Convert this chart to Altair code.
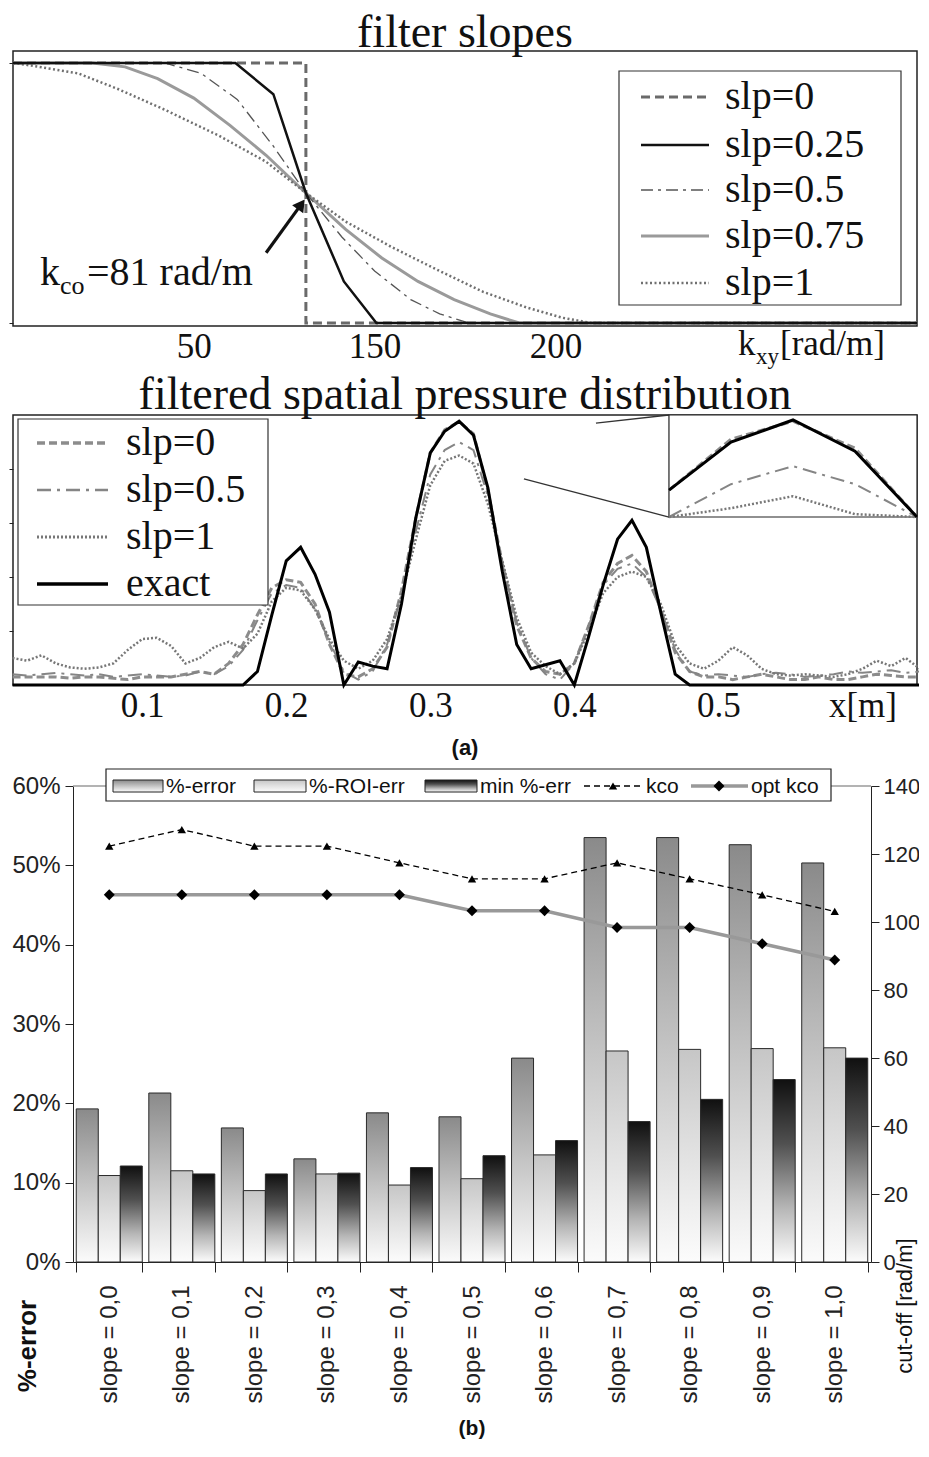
import altair as alt
import pandas as pd

SERIF = "Liberation Serif, Times New Roman, serif"
SANS = "Liberation Sans, Arial, Helvetica, sans-serif"
NARROW = "Liberation Sans Narrow, Arial Narrow, Liberation Sans, sans-serif"
INK = "#111111"

# ---------------- panel 1 data: filter slopes ----------------
top_series = ["slp=0", "slp=0.25", "slp=0.5", "slp=0.75", "slp=1"]
k_slp0 = [0, 81, 81, 250]
v_slp0 = [1.0, 1.0, 0.0, 0.0]
k_slp025 = [0, 61.5, 72, 81, 91.5, 100.5, 250]
v_slp025 = [1.0, 1.0, 0.88, 0.5, 0.16, 0.0, 0.0]
k_slp05 = [0, 42, 52, 62, 72, 81, 91, 100, 110, 118, 126, 250]
v_slp05 = [1.0, 1.0, 0.96, 0.86, 0.68, 0.5, 0.33, 0.2, 0.09, 0.035, 0.0, 0.0]
k_slp075 = [0, 22, 31, 40, 50, 60, 70, 81, 92, 102, 112, 122, 132, 140, 250]
v_slp075 = [1.0, 1.0, 0.985, 0.94, 0.865, 0.76, 0.645, 0.5, 0.36, 0.25, 0.16, 0.09, 0.035, 0.0, 0.0]
k_slp1 = [0, 5, 18, 29, 42, 57, 70, 81, 92, 105, 118, 130, 142, 152, 160, 250]
v_slp1 = [1.0, 0.99, 0.96, 0.9, 0.82, 0.72, 0.62, 0.5, 0.39, 0.29, 0.2, 0.12, 0.06, 0.02, 0.0, 0.0]
arrow_k = [70, 79.7]
arrow_v = [0.27, 0.456]
top_tick_values = [50, 100, 150, 200]
top_tick_text = ["50", "150", "200", ""]

# ---------------- panel 2 data: filtered spatial pressure distribution ----------------
mid_series = ["slp=0", "slp=0.5", "slp=1", "exact"]
x_m = [0.01, 0.02, 0.03, 0.04, 0.05, 0.06, 0.07, 0.08, 0.09, 0.10,
       0.11, 0.12, 0.13, 0.14, 0.15, 0.16, 0.17, 0.18, 0.19, 0.20,
       0.21, 0.22, 0.23, 0.24, 0.25, 0.26, 0.27, 0.28, 0.29, 0.30,
       0.31, 0.32, 0.33, 0.34, 0.35, 0.36, 0.37, 0.38, 0.39, 0.40,
       0.41, 0.42, 0.43, 0.44, 0.45, 0.46, 0.47, 0.48, 0.49, 0.50,
       0.51, 0.52, 0.53, 0.54, 0.55, 0.56, 0.57, 0.58, 0.59, 0.60,
       0.61, 0.62, 0.63, 0.64]
p_slp0 = [0.03, 0.03, 0.03, 0.03, 0.025, 0.03, 0.03, 0.025, 0.02, 0.03,
          0.03, 0.03, 0.04, 0.05, 0.04, 0.08, 0.15, 0.26, 0.36, 0.39,
          0.38, 0.30, 0.15, 0.04, 0.03, 0.06, 0.14, 0.35, 0.62, 0.86,
          0.945, 0.975, 0.93, 0.72, 0.45, 0.22, 0.10, 0.05, 0.04, 0.08,
          0.22, 0.38, 0.45, 0.48, 0.42, 0.28, 0.12, 0.05, 0.03, 0.03,
          0.02, 0.03, 0.04, 0.03, 0.02, 0.02, 0.03, 0.02, 0.02, 0.03,
          0.04, 0.035, 0.03, 0.03]
p_slp05 = [0.04, 0.035, 0.04, 0.045, 0.04, 0.035, 0.04, 0.03, 0.035, 0.04,
           0.035, 0.03, 0.035, 0.05, 0.04, 0.07, 0.13, 0.24, 0.34, 0.37,
           0.36, 0.28, 0.16, 0.05, 0.02, 0.05, 0.15, 0.33, 0.57, 0.78,
           0.87, 0.90, 0.87, 0.70, 0.45, 0.23, 0.10, 0.04, 0.02, 0.08,
           0.22, 0.37, 0.43, 0.45, 0.40, 0.28, 0.13, 0.05, 0.035, 0.04,
           0.035, 0.03, 0.04, 0.045, 0.04, 0.03, 0.035, 0.04, 0.05, 0.045,
           0.05, 0.055, 0.045, 0.05]
p_slp1 = [0.10, 0.09, 0.11, 0.08, 0.065, 0.06, 0.065, 0.08, 0.13, 0.17,
          0.175, 0.145, 0.08, 0.10, 0.14, 0.16, 0.135, 0.19, 0.31, 0.36,
          0.35, 0.28, 0.17, 0.09, 0.06, 0.09, 0.17, 0.33, 0.54, 0.74,
          0.83, 0.85, 0.82, 0.67, 0.46, 0.25, 0.12, 0.07, 0.04, 0.08,
          0.20, 0.34, 0.40, 0.42, 0.40, 0.30, 0.15, 0.08, 0.06, 0.09,
          0.14, 0.11, 0.06, 0.04, 0.035, 0.04, 0.035, 0.03, 0.04, 0.06,
          0.09, 0.07, 0.10, 0.06]
p_exact = [0, 0, 0, 0, 0, 0, 0, 0, 0, 0,
           0, 0, 0, 0, 0, 0, 0, 0.05, 0.26, 0.46,
           0.51, 0.41, 0.27, 0.0, 0.085, 0.07, 0.06, 0.30, 0.62, 0.86,
           0.94, 0.977, 0.925, 0.73, 0.42, 0.15, 0.06, 0.075, 0.09, 0.0,
           0.18, 0.37, 0.54, 0.61, 0.51, 0.27, 0.04, 0, 0, 0,
           0, 0, 0, 0, 0, 0, 0, 0, 0, 0,
           0, 0, 0, 0]
mid_tick_values = [0.1, 0.2, 0.3, 0.4, 0.5, 0.6]
inset_box_x = [0.4657, 0.6379]
inset_box_v = [0.6222, 1.0]
conn_x = [[0.415, 0.4657], [0.365, 0.4657]]
conn_v = [[0.970, 1.0], [0.763, 0.6222]]

# ---------------- panel 3 data: error bars and cut-off ----------------
slope_labels = ["slope = 0,0", "slope = 0,1", "slope = 0,2", "slope = 0,3", "slope = 0,4",
                "slope = 0,5", "slope = 0,6", "slope = 0,7", "slope = 0,8", "slope = 0,9",
                "slope = 1,0"]
bar_series = ["%-error", "%-ROI-err", "min %-err"]
pct_error = [19.3, 21.3, 16.9, 13.0, 18.8, 18.3, 25.7, 53.5, 53.5, 52.6, 50.3]
pct_roi_err = [10.9, 11.5, 9.0, 11.1, 9.7, 10.5, 13.5, 26.6, 26.8, 26.9, 27.0]
min_pct_err = [12.1, 11.1, 11.1, 11.2, 11.9, 13.4, 15.3, 17.7, 20.5, 23.0, 25.7]
kco = [122.3, 127.2, 122.3, 122.3, 117.4, 112.7, 112.7, 117.4, 112.7, 108.0, 103.1]
opt_kco = [108.0, 108.0, 108.0, 108.0, 108.0, 103.3, 103.3, 98.4, 98.4, 93.6, 88.8]

# ---------------- helpers ----------------
ONE = alt.Data(values=[{"z": 0}])


def seg(x1, x2, y, color, width, dash=None):
    kw = dict(color=color, strokeWidth=width)
    if dash:
        kw["strokeDash"] = dash
    return alt.Chart(ONE).mark_rule(**kw).encode(x=alt.value(x1), x2=alt.value(x2), y=alt.value(y))


def box(x1, x2, y1, y2, stroke="#333333", width=1.2, fill="white"):
    return alt.Chart(ONE).mark_rect(fill=fill, stroke=stroke, strokeWidth=width).encode(
        x=alt.value(x1), x2=alt.value(x2), y=alt.value(y1), y2=alt.value(y2))


def txt(x, y, s, font=SERIF, size=40, align="left", baseline="alphabetic", weight="normal", angle=0):
    kw = dict(text=s, font=font, fontSize=size, align=align, baseline=baseline,
              fontWeight=weight, color=INK)
    if angle:
        kw["angle"] = angle
    return alt.Chart(ONE).mark_text(**kw).encode(x=alt.value(x), y=alt.value(y))


def style_kw(color, dash, width):
    kw = dict(color=color, strokeWidth=width)
    if dash:
        kw["strokeDash"] = dash
    return kw


def ternary(values, texts, default="''"):
    expr = default
    for v, t in reversed(list(zip(values, texts))):
        expr = f"datum.value == {v} ? '{t}' : ({expr})"
    return expr


W = 904
TITLE_SIZE = 46

# ================= panel 1 =================
top_styles = [("#6a6a6a", [9, 5], 3), ("#111111", None, 2.5), ("#555555", [12, 5, 3, 5], 1.3),
              ("#9a9a9a", None, 3), ("#707070", [2, 2.5], 2.5)]
rows1 = []
for s, kk, vv in zip(top_series, [k_slp0, k_slp025, k_slp05, k_slp075, k_slp1],
                     [v_slp0, v_slp025, v_slp05, v_slp075, v_slp1]):
    for i, (k, v) in enumerate(zip(kk, vv)):
        rows1.append({"series": s, "k": k, "v": v, "i": i})
df1 = pd.DataFrame(rows1)

X1 = alt.X("k:Q", scale=alt.Scale(domain=[0, 250], nice=False, zero=False),
           axis=alt.Axis(values=top_tick_values, labelExpr=ternary(top_tick_values, top_tick_text),
                         labelFont=SERIF, labelFontSize=35, labelColor=INK, labelPadding=3,
                         ticks=False, domain=False, grid=False, title=None, labelFlush=False))
Y1 = alt.Y("v:Q", scale=alt.Scale(domain=[-0.0115, 1.046], nice=False, zero=False),
           axis=alt.Axis(values=[0, 1], labels=False, tickSize=4, tickColor="#222222",
                         domain=False, grid=False, title=None))

p1_layers = []
for idx in [0, 3, 4, 2, 1]:
    c, d, w = top_styles[idx]
    p1_layers.append(
        alt.Chart(df1).transform_filter(alt.datum.series == top_series[idx])
        .mark_line(**style_kw(c, d, w)).encode(x=X1, y=Y1, order=alt.Order("i:Q")))
df_arrow = pd.DataFrame({"k": arrow_k, "v": arrow_v})
p1_layers.append(alt.Chart(df_arrow).mark_line(color=INK, strokeWidth=3.2).encode(x=X1, y=Y1))
p1_layers.append(alt.Chart(df_arrow.tail(1)).mark_point(shape="triangle-up", filled=True, size=190,
                                                          angle=36, color=INK, opacity=1).encode(x=X1, y=Y1))
# title (baseline 4px above the frame)
p1_layers.append(txt(W / 2, -(0.79 * TITLE_SIZE + 4), "filter slopes", size=TITLE_SIZE,
                     align="center", baseline="top"))
# annotation k_co
p1_layers += [txt(27, 234, "k"), txt(47, 243, "co", size=26), txt(74, 234, "=81 rad/m")]
# custom axis label k_xy[rad/m]
p1_layers += [txt(725, 304, "k", size=35), txt(743, 313, "xy", size=23), txt(767, 304, "[rad/m]", size=35)]
# legend
p1_layers.append(box(606, 888, 20, 254))
for (c, d, w), s, ry in zip(top_styles, top_series, [46, 94, 139, 185, 232]):
    p1_layers.append(seg(628, 696, ry, c, w, d))
    p1_layers.append(txt(712, ry + 12, s, size=40))

p1 = alt.layer(*p1_layers).properties(width=W, height=275)

# ================= panel 2 =================
mid_styles = [("#8c8c8c", [8, 4], 3), ("#858585", [14, 6, 3, 6], 2), ("#777777", [2, 2], 2.5),
              ("#000000", None, 3)]
rows2 = []
for s, vals in zip(mid_series, [p_slp0, p_slp05, p_slp1, p_exact]):
    for x, v in zip(x_m, vals):
        rows2.append({"series": s, "x": x, "v": v})
df2 = pd.DataFrame(rows2)

X2 = alt.X("x:Q", scale=alt.Scale(domain=[0.0103, 0.6379], nice=False, zero=False),
           axis=alt.Axis(values=mid_tick_values,
                         labelExpr="datum.value > 0.55 ? 'x[m]' : format(datum.value, '.1f')",
                         labelFont=SERIF, labelFontSize=35, labelColor=INK, labelPadding=3,
                         ticks=False, domain=False, grid=False, labelFlush=False, title=None))
Y2 = alt.Y("v:Q", scale=alt.Scale(domain=[0, 1], nice=False, zero=False),
           axis=alt.Axis(values=[0.2, 0.4, 0.6, 0.8], labels=False, tickSize=4, tickColor="#222222",
                         domain=False, grid=False, title=None))

main2 = []
for s, (c, d, w) in zip(mid_series, mid_styles):
    main2.append(alt.Chart(df2).transform_filter(alt.datum.series == s)
                 .mark_line(**style_kw(c, d, w)).encode(x=X2, y=Y2))
df_box = pd.DataFrame({"x": [inset_box_x[0]], "x2": [inset_box_x[1]],
                       "v": [inset_box_v[0]], "v2": [inset_box_v[1]]})
main2.append(alt.Chart(df_box).mark_rect(fill="white", stroke="#222222", strokeWidth=1.2)
             .encode(x=X2, x2="x2:Q", y=Y2, y2="v2:Q"))
conn_rows = []
for j, (cx, cv) in enumerate(zip(conn_x, conn_v)):
    for x, v in zip(cx, cv):
        conn_rows.append({"line": j, "x": x, "v": v})
main2.append(alt.Chart(pd.DataFrame(conn_rows)).mark_line(color="#333333", strokeWidth=1.3)
             .encode(x=X2, y=Y2, detail="line:N"))
# title and caption
main2.append(txt(W / 2, -(0.79 * TITLE_SIZE + 6), "filtered spatial pressure distribution",
                 size=TITLE_SIZE, align="center", baseline="top"))
main2.append(txt(W / 2, 333, "(a)", font=NARROW, size=22, weight="bold", align="center",
                 baseline="middle"))
# legend
main2.append(box(5, 255, 4, 190))
for (c, d, w), s, ry in zip(mid_styles, mid_series, [28, 75, 122, 169]):
    main2.append(seg(24, 95, ry, c, w + 0.5, d))
    main2.append(txt(113, ry + 12, s, size=40))

inset_layers = []
XI = alt.X("x:Q", scale=alt.Scale(domain=[0.19419, 0.34], nice=False, zero=False), axis=None)
YI = alt.Y("vc:Q", scale=alt.Scale(domain=[0.5353, 0.9853], nice=False, zero=False), axis=None)
for s, (c, d, w) in zip(mid_series, mid_styles):
    inset_layers.append(
        alt.Chart(df2).transform_filter(alt.datum.series == s)
        .transform_filter("datum.x >= 0.295 && datum.x <= 0.345")
        .transform_calculate(vc="max(datum.v, 0.8153)")
        .mark_line(**style_kw(c, d, w)).encode(x=XI, y=YI))

p2 = alt.layer(alt.layer(*main2), alt.layer(*inset_layers)).resolve_scale(
    x="independent", y="independent").properties(width=W, height=270)

# ================= panel 3 =================
H3 = 476
rows3 = []
for s, vals in zip(bar_series, [pct_error, pct_roi_err, min_pct_err]):
    for sl, v in zip(slope_labels, vals):
        rows3.append({"slope": sl, "series": s, "val": v})
df3 = pd.DataFrame(rows3)
df3l = pd.DataFrame({"slope": slope_labels, "kco": kco, "opt": opt_kco})


def grad(stops):
    return alt.Gradient(gradient="linear",
                        stops=[alt.GradientStop(color=c, offset=o) for o, c in stops],
                        x1=0, x2=0, y1=0, y2=1)


grads = [grad([(0, "#8a8a8a"), (0.5, "#c4c4c4"), (1, "#fbfbfb")]),
         grad([(0, "#c6c6c6"), (0.5, "#e2e2e2"), (1, "#fcfcfc")]),
         grad([(0, "#101010"), (0.35, "#505050"), (0.7, "#b5b5b5"), (1, "#fcfcfc")])]

XL, XR = 60, 858  # bar region inside the panel
X3 = alt.X("slope:N", sort=slope_labels,
           scale=alt.Scale(domain=slope_labels, range=[XL, XR], paddingInner=0.09, paddingOuter=0.045),
           axis=alt.Axis(labelAngle=270, labelAlign="right", labelBaseline="middle", labelFont=SANS,
                         labelFontSize=24, labelColor="#222222", labelPadding=13, tickBand="extent",
                         tickSize=10, tickColor="#222222", domainColor="#222222", grid=False,
                         title=None))
Y3 = alt.Y("val:Q", scale=alt.Scale(domain=[0, 60], nice=False, zero=True),
           axis=alt.Axis(values=[0, 10, 20, 30, 40, 50, 60], labelExpr="datum.value + '%'",
                         labelFont=SANS, labelFontSize=24, labelColor="#222222", tickSize=8,
                         labelPadding=5, tickColor="#222222", domainColor="#222222",
                         grid=False, title=None, offset=-XL))
XO = alt.XOffset("series:N", scale=alt.Scale(domain=bar_series, paddingInner=0, paddingOuter=0))

bars = [seg(XL, XR, 0, "#9a9a9a", 1.5)]
for s, g in zip(bar_series, grads):
    bars.append(alt.Chart(df3).transform_filter(alt.datum.series == s)
                .mark_bar(fill=g, stroke="#2a2a2a", strokeWidth=1).encode(x=X3, xOffset=XO, y=Y3))

YR_axis = alt.Axis(orient="right", values=[0, 20, 40, 60, 80, 100, 120, 140], labelFont=SANS,
                   labelFontSize=22, labelColor="#222222", tickSize=8, labelPadding=4,
                   tickColor="#222222", domainColor="#222222", grid=False, title=None,
                   offset=-(W - XR))
YRs = alt.Scale(domain=[0, 140], nice=False, zero=True)
YR1 = alt.Y("kco:Q", scale=YRs, axis=YR_axis)
YR2 = alt.Y("opt:Q", scale=YRs, axis=YR_axis)

lines3 = [
    alt.Chart(df3l).mark_line(color="#999999", strokeWidth=3.5).encode(x=X3, y=YR2),
    alt.Chart(df3l).mark_line(color="#000000", strokeWidth=1.3, strokeDash=[6, 4]).encode(x=X3, y=YR1),
    alt.Chart(df3l).mark_point(shape="triangle-up", filled=True, size=70, color="#000000", opacity=1)
    .encode(x=X3, y=YR1),
    alt.Chart(df3l).mark_point(shape="diamond", filled=True, size=120, color="#000000", opacity=1)
    .encode(x=X3, y=YR2),
]
# legend (top centre)
lines3.append(box(93, 818, -17, 15, stroke="#222222", width=1.2))
for (a, b), g, lx, s in zip([(100, 150), (241, 293), (412, 464)], grads, [153, 296, 467], bar_series):
    lines3.append(alt.Chart(ONE).mark_rect(fill=g, stroke="#222222", strokeWidth=1)
                  .encode(x=alt.value(a), x2=alt.value(b), y=alt.value(-6), y2=alt.value(6)))
    lines3.append(txt(lx, 1, s, font=SANS, size=21, baseline="middle"))
lines3.append(seg(571, 629, 0, "#000000", 1.3, [6, 4]))
lines3.append(alt.Chart(ONE).mark_point(shape="triangle-up", filled=True, size=70, color="#000000",
                                        opacity=1).encode(x=alt.value(600), y=alt.value(0)))
lines3.append(txt(633, 1, "kco", font=SANS, size=21, baseline="middle"))
lines3.append(seg(678, 735, 0, "#999999", 3.5))
lines3.append(alt.Chart(ONE).mark_point(shape="diamond", filled=True, size=120, color="#000000",
                                        opacity=1).encode(x=alt.value(706), y=alt.value(0)))
lines3.append(txt(738, 1, "opt kco", font=SANS, size=21, baseline="middle"))
# side titles and caption
lines3.append(txt(15, 560, "%-error", font=SANS, size=26, weight="bold", align="center",
                  baseline="middle", angle=270))
lines3.append(txt(899, 520, "cut-off [rad/m]", font=SANS, size=22, align="center",
                  baseline="alphabetic", angle=270))
lines3.append(txt((XL + XR) / 2, 643, "(b)", font=NARROW, size=21, weight="bold", align="center",
                  baseline="middle"))

p3 = alt.layer(alt.layer(*bars), alt.layer(*lines3)).resolve_scale(y="independent").properties(
    width=W, height=H3, view=alt.ViewBackground(stroke="transparent"))

chart = alt.vconcat(alt.vconcat(p1, p2, spacing=0), p3, spacing=7).properties(
    padding={"top": 0, "left": -8, "right": -8, "bottom": 0}).configure_view(
    stroke="#222222", strokeWidth=1.5)

chart.save("out.html", embed_options={"renderer": "svg", "actions": False})
